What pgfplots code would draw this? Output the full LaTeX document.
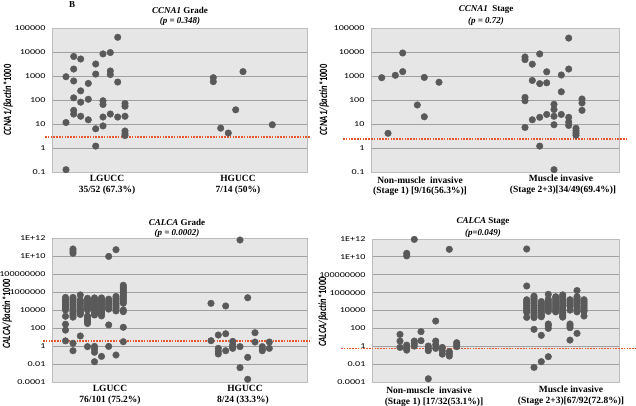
\documentclass[border=0pt]{standalone}
\usepackage{fontspec}
\setmainfont{Liberation Serif}
\newfontfamily\calfont{Carlito}
\newfontfamily\tickfont{Carlito}[FakeStretch=1.35]
\usepackage{pgfplots}
\pgfplotsset{compat=1.18}
\definecolor{plotbg}{RGB}{230,230,230}
\definecolor{gridc}{RGB}{160,160,160}
\definecolor{dotc}{RGB}{89,89,89}
\definecolor{cutc}{RGB}{232,85,40}
\pgfplotsset{
  mypanel/.style={scale only axis, width=255pt, height=144pt, clip=false,
    axis background/.style={fill=plotbg}, axis line style={gridc!70, line width=0.6pt},
    ymajorgrids, grid style={gridc, line width=0.9pt}, yminorticks=false,
    xtick=\empty, major tick length=0pt, minor tick length=0pt,
    yticklabel style={font=\tickfont\fontsize{7.5}{9}\selectfont, xshift=-3pt}},
  rangeA/.style={ymin=0.1, ymax=100000, ytick={0.1,1,10,100,1000,10000,100000},
    yticklabels={0.1,1,10,100,1000,10000,100000}},
  rangeB/.style={ymin=1e-4, ymax=1e12, ytick={1e-4,1e-2,1,1e2,1e4,1e6,1e8,1e10,1e12},
    yticklabels={0.0001,0.01,1,100,10000,1000000,100000000,1E+10,1E+12}},
  dotmarks/.style={only marks, mark=*, mark size=3.3pt, mark options={fill=dotc, draw=dotc}},
  cutline/.style={no marks, color=cutc, line width=1.8pt, dash pattern=on 1.6pt off 1.2pt}
}
\begin{document}
\begin{tikzpicture}[x=1pt,y=1pt]
\useasboundingbox (0,0) rectangle (636,406);

% CCNA1 grade
\begin{axis}[ymode=log, mypanel, rangeA, at={(52pt,234pt)}, anchor=south west, xmin=52, xmax=307]
\addplot[dotmarks] coordinates {
(66,930) (66,11.5) (66,0.125)
(73.7,6500) (73.7,1950) (73.7,620) (73.7,123) (73.7,37) (73.7,26)
(80.7,5100) (80.7,240) (80.7,81) (80.7,21)
(88.3,490) (88.3,107) (88.3,15)
(95.7,3160) (95.7,1200) (95.7,6.3) (95.7,1.2)
(103,8300) (103,93) (103,65) (103,19.5) (103,8.3)
(110.3,9500) (110.3,1620) (110.3,1150) (110.3,26)
(117.7,41000) (117.7,560) (117.7,19.5)
(125,71) (125,55) (125,21) (125,5.1) (125,3.9) (125,3.3)
(213.3,850) (213.3,580) (220.7,6.7) (228.3,4.2) (235.7,39) (243,1520) (272.3,9.3)};
\addplot[cutline] coordinates {(45,2.8) (310,2.8)};
\end{axis}

% CCNA1 stage
\begin{axis}[ymode=log, mypanel, rangeA, at={(371pt,234pt)}, anchor=south west, width=248pt, xmin=371, xmax=619]
\addplot[dotmarks] coordinates {
(381.7,850) (388,4.1) (395.3,1070) (402.7,9100) (402.7,1520) (417.3,62)
(424.3,870) (424.3,20) (439,550)
(525,6200) (525,4800) (525,128) (525,93) (525,7.2)
(532.3,3100) (532.3,650) (532.3,15)
(539.7,8300) (539.7,480) (539.7,19) (539.7,1.2)
(546.7,1500) (546.7,520) (546.7,25)
(554,66) (554,40) (554,21) (554,9.3) (554,0.125)
(561.3,1100) (561.3,220) (561.3,25)
(568.7,38000) (568.7,1950) (568.7,19) (568.7,12) (568.7,8.7)
(576,6.6) (576,5.2) (576,4.2) (576,3.4)
(582,110) (582,75) (582,37)};
\addplot[cutline] coordinates {(343,2.4) (626,2.4)};
\end{axis}

% CALCA grade
\begin{axis}[ymode=log, mypanel, rangeB, at={(52pt,24pt)}, anchor=south west, xmin=52, xmax=307]
\addplot[dotmarks] coordinates {
(65.5,2.5e5) (65.5,1.6e5) (65.5,1e5) (65.5,6.3e4) (65.5,4e4) (65.5,2.5e4) (65.5,1.6e4) (65.5,1e4)
(65.5,2e3) (65.5,260) (65.5,58) (65.5,3.7)
(73,6e10) (73,3.5e10) (73,2e10)
(73,2.5e5) (73,1.6e5) (73,1e5) (73,6.3e4) (73,4e4) (73,2.5e4) (73,1.6e4) (73,1e4) (73,6.3e3) (73,4e3) (73,2.5e3) (73,1.6e3)
(73,2.0) (73,0.3)
(80.3,4.7e5) (80.3,1.26e5) (80.3,7.9e4) (80.3,5e4) (80.3,3.2e4) (80.3,2e4) (80.3,1.26e4) (80.3,7.9e3) (80.3,5e3) (80.3,3.2e3) (80.3,13)
(87.5,2e5) (87.5,1.26e5) (87.5,7.9e4) (87.5,5e4) (87.5,3.2e4) (87.5,2e4) (87.5,1.26e4) (87.5,1e4)
(87.5,2.1e3) (87.5,1.3e3) (87.5,790) (87.5,500) (87.5,316) (87.5,0.85)
(94.5,2.2e5) (94.5,1.4e5) (94.5,8.9e4) (94.5,5.6e4) (94.5,3.5e4) (94.5,2.2e4) (94.5,1.4e4) (94.5,8.9e3) (94.5,5.6e3) (94.5,3.5e3) (94.5,2.8e3)
(94.5,0.9) (94.5,0.45) (94.5,0.2) (94.5,0.018)
(101.5,2.2e5) (101.5,1.4e5) (101.5,8.9e4) (101.5,5.6e4) (101.5,3.5e4) (101.5,2.2e4) (101.5,1.4e4) (101.5,8.9e3) (101.5,5.6e3) (101.5,3.5e3) (101.5,2.2e3) (101.5,0.07)
(108.7,9e9) (108.7,1.6e5) (108.7,1e5) (108.7,6.3e4) (108.7,4e4) (108.7,2.5e4) (108.7,1.6e4) (108.7,1.26e4) (108.7,220) (108.7,0.9)
(116,5e10) (116,3.2e5) (116,2e5) (116,1.26e5) (116,7.9e4) (116,5e4) (116,3.2e4) (116,2e4) (116,1.26e4) (116,7.9e3) (116,0.1)
(123.3,5.6e6) (123.3,3.5e6) (123.3,2.2e6) (123.3,1.4e6) (123.3,8.9e5) (123.3,5.6e5) (123.3,3.5e5) (123.3,2.2e5) (123.3,1.4e5) (123.3,8.9e4) (123.3,5.6e4)
(123.3,1e4) (123.3,6.5e3) (123.3,120) (123.3,3.0)
(240,6e11) (211,5.5e4) (225.7,2.8e4) (247.7,2.3e5)
(218.3,16.6) (225.7,23) (255,30) (211,3.9) (232.7,3.3) (255,2.75) (269.3,2.75)
(218.3,0.55) (218.3,0.25) (218.3,0.13) (225.7,0.3)
(232.7,1.3) (232.7,0.8) (232.7,0.55) (240,0.85) (247.7,0.055)
(262.3,0.85) (262.3,0.45) (262.3,0.3) (269.3,0.55) (240,0.0039) (247.7,0.0002)};
\addplot[cutline] coordinates {(43,3.5) (310,3.5)};
\end{axis}

% CALCA stage
\begin{axis}[ymode=log, mypanel, rangeB, at={(372pt,24pt)}, anchor=south west, width=247pt, height=143pt, xmin=372, xmax=619]
\addplot[dotmarks] coordinates {
(414.3,9e11) (406.7,2.5e10) (406.7,1.3e10) (449.3,7e10) (435.7,660)
(400,21) (400,3.8) (400,0.74)
(406.7,1.35) (406.7,0.7) (406.7,0.37)
(414.3,3.8) (414.3,2.0) (414.3,1.05)
(421,43) (421,4.2)
(428.3,1.05) (428.3,0.6) (428.3,0.32)
(435.7,3.8) (435.7,1.5) (435.7,0.58)
(442.3,0.74) (442.3,0.3) (442.3,0.13)
(449.3,0.25) (449.3,0.15) (449.3,0.08)
(456.7,2.5) (456.7,1.5) (456.7,0.9)
(428.3,0.00023)
(526.7,7.6e10) (526.7,5.5e6)
(526.7,1.6e5) (526.7,1e5) (526.7,6.3e4) (526.7,4e4) (526.7,2.5e4) (526.7,1.6e4) (526.7,1e4) (526.7,6.3e3) (526.7,1.7e3)
(534,4e5) (534,2.5e5) (534,1.6e5) (534,1e5) (534,6.3e4) (534,4e4) (534,2.5e4) (534,1.6e4) (534,1e4) (534,6.3e3) (534,4e3) (534,2.5e3) (534,1.6e3)
(534,78) (534,0.0043)
(541.3,1e5) (541.3,6.3e4) (541.3,4e4) (541.3,2.5e4) (541.3,1.6e4) (541.3,1e4) (541.3,6.3e3) (541.3,4e3) (541.3,2.5e3) (541.3,2e3)
(541.3,16.6) (541.3,0.019)
(548.3,6.5e5) (548.3,1.8e5) (548.3,1.1e5) (548.3,7e4) (548.3,4.5e4) (548.3,2.8e4) (548.3,1.8e4) (548.3,1.1e4) (548.3,7.9e3)
(548.3,310) (548.3,200) (548.3,100) (548.3,0.068)
(555.7,3.5e5) (555.7,2.2e5) (555.7,1.4e5) (555.7,8.9e4) (555.7,5.6e4) (555.7,3.5e4) (555.7,2.2e4) (555.7,1.4e4) (555.7,8.9e3) (555.7,7e3)
(562.7,5.6e5) (562.7,3.5e5) (562.7,2.2e5) (562.7,1.4e5) (562.7,8.9e4) (562.7,5.6e4) (562.7,3.5e4) (562.7,2.2e4) (562.7,1.4e4) (562.7,8.9e3) (562.7,5.6e3) (562.7,3.5e3) (562.7,2.2e3) (562.7,1.8e3)
(570,1.6e5) (570,1e5) (570,6.3e4) (570,4e4) (570,3.2e4) (570,1.1e4) (570,310) (570,200) (570,120) (570,4.9)
(577,1.7e6) (577,3.5e5) (577,2.2e5) (577,1.4e5) (577,8.9e4) (577,5.6e4) (577,3.5e4) (577,2.2e4) (577,1.4e4) (577,8.9e3) (577,7e3) (577,27.5)
(584,1.6e5) (584,1e5) (584,6.3e4) (584,4e4) (584,2.5e4) (584,1.6e4) (584,1e4) (584,7.9e3) (584,2.4e3)};
\addplot[cutline] coordinates {(341,0.57) (636,0.57)};
\end{axis}

% texts
\node[font=\bfseries\fontsize{9}{10}\selectfont] at (72,401) {B};
\begin{scope}[every node/.style={font=\bfseries\fontsize{9}{10}\selectfont}]
\node at (180,396) {\textit{CCNA1} Grade};
\node at (180,385) {\textit{(p = 0.348)}};
\node at (486,396) {\textit{CCNA1}~~Stage};
\node at (486,385) {\textit{(p = 0.72)}};
\node at (177,184) {\textit{CALCA} Grade};
\node at (177,173) {\textit{(p = 0.0002)}};
\node at (483,184) {\textit{CALCA} Stage};
\node at (483,173) {\textit{(p=0.049)}};
\end{scope}
\begin{scope}[every node/.style={font=\bfseries\fontsize{9.5}{10}\selectfont}]
\node at (107,228) {LGUCC};
\node at (107,216) {35/52 (67.3\%)};
\node at (238,228) {HGUCC};
\node at (238,216) {7/14 (50\%)};
\node at (420,226) {Non-muscle~~invasive};
\node at (420,215) {(Stage 1) [9/16(56.3\%)]};
\node at (561,228) {Muscle invasive};
\node at (563,216) {(Stage 2+3)[34/49(69.4\%)]};
\node at (110,18) {LGUCC};
\node at (110,6) {76/101 (75.2\%)};
\node at (245,18) {HGUCC};
\node at (243,6) {8/24 (33.3\%)};
\node at (429,16) {Non-muscle~~invasive};
\node at (434,4) {(Stage 1) [17/32(53.1\%)]};
\node at (571,17) {Muscle invasive};
\node at (571,5) {(Stage 2+3)[67/92(72.8\%)]};
\end{scope}
\begin{scope}[every node/.style={rotate=90, yscale=1.3, font=\calfont\bfseries\fontsize{8.5}{9}\selectfont}]
\node at (8,306) {\textit{CCNA1/βactin}*1000};
\node at (324,306) {\textit{CCNA1/βactin}*1000};
\node at (7,92) {\textit{CALCA/βactin}*1000};
\node at (323,94) {\textit{CALCA/βactin}*1000};
\end{scope}
\end{tikzpicture}
\end{document}
